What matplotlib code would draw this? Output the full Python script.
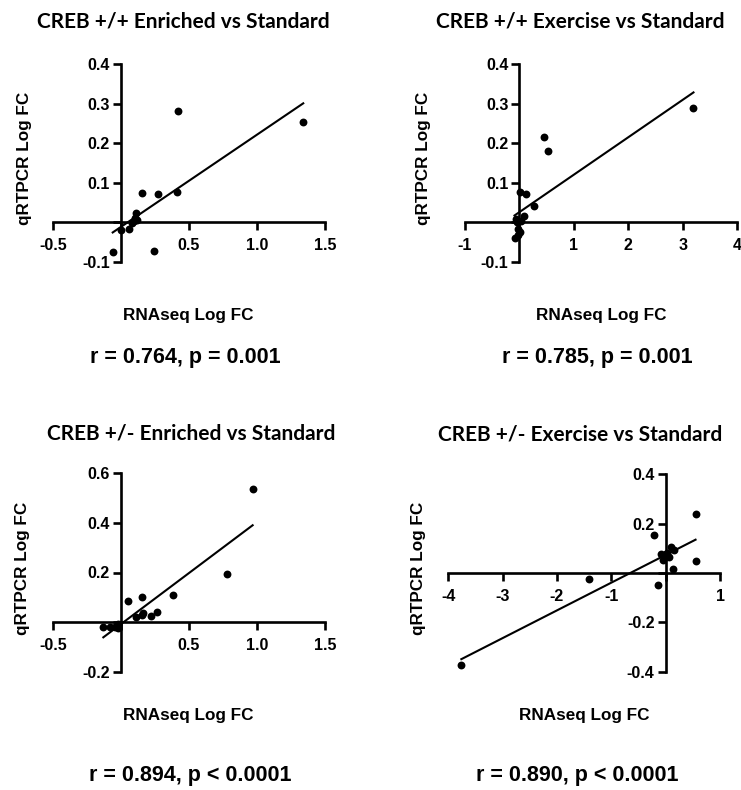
import numpy as np
import matplotlib
matplotlib.use("Agg")
import matplotlib.pyplot as plt

plt.rcParams["font.family"] = ["Liberation Sans", "DejaVu Sans"]
plt.rcParams["font.weight"] = "bold"

# ---------------- data ----------------
titles = ["CREB +/+ Enriched vs Standard", "CREB +/+ Exercise vs Standard",
          "CREB +/- Enriched vs Standard", "CREB +/- Exercise vs Standard"]
stats = ["r = 0.764, p = 0.001", "r = 0.785, p = 0.001",
         "r = 0.894, p < 0.0001", "r = 0.890, p < 0.0001"]
xlabel = "RNAseq Log FC"
ylabel = "qRTPCR Log FC"

x1 = [-0.061, 0.000, 0.059, 0.078, 0.095, 0.103, 0.110, 0.115, 0.152, 0.243, 0.270, 0.410, 0.420, 1.340]
y1 = [-0.075, -0.019, -0.016, -0.002, 0.003, 0.011, 0.024, 0.007, 0.074, -0.071, 0.072, 0.077, 0.281, 0.253]

x2 = [3.20, 0.445, 0.53, 0.02, 0.12, 0.27, -0.06, 0.09, -0.02, 0.02, -0.09, -0.02, 0.03, -0.04]
y2 = [0.288, 0.215, 0.181, 0.076, 0.072, 0.042, 0.009, 0.015, -0.017, -0.025, -0.040, -0.033, 0.003, 0.002]

x3 = [0.968, 0.777, 0.380, 0.157, 0.049, 0.110, 0.152, 0.164, 0.218, 0.262, -0.130, -0.081, -0.044, -0.025, -0.020]
y3 = [0.537, 0.194, 0.108, 0.101, 0.086, 0.020, 0.030, 0.036, 0.025, 0.040, -0.018, -0.020, -0.020, -0.007, -0.022]

x4 = [-3.76, -1.41, -0.215, -0.135, 0.55, 0.55, 0.135, -0.09, 0.03, 0.09, 0.15, -0.04, 0.06, 0.00]
y4 = [-0.374, -0.023, 0.153, -0.050, 0.240, 0.049, 0.018, 0.078, 0.081, 0.105, 0.095, 0.054, 0.065, 0.075]

xticks = [[-0.5, 0, 0.5, 1.0, 1.5], [-1, 0, 1, 2, 3, 4], [-0.5, 0, 0.5, 1.0, 1.5], [-4, -3, -2, -1, 0, 1]]
xticklabels = [["-0.5", "", "0.5", "1.0", "1.5"], ["-1", "", "1", "2", "3", "4"],
               ["-0.5", "", "0.5", "1.0", "1.5"], ["-4", "-3", "-2", "-1", "", "1"]]
yticks = [[-0.1, 0, 0.1, 0.2, 0.3, 0.4], [-0.1, 0, 0.1, 0.2, 0.3, 0.4],
          [-0.2, 0, 0.2, 0.4, 0.6], [-0.4, -0.2, 0, 0.2, 0.4]]
yticklabels = [["-0.1", "", "0.1", "0.2", "0.3", "0.4"], ["-0.1", "", "0.1", "0.2", "0.3", "0.4"],
               ["-0.2", "", "0.2", "0.4", "0.6"], ["-0.4", "-0.2", "", "0.2", "0.4"]]

# ---------------- layout (pixels, y from top) ----------------
W, H = 741, 790
fig = plt.figure(figsize=(W / 100, H / 100), dpi=100)

def fx(px):
    return px / W

def fy(py):
    return 1 - py / H

axes_px = [(53, 325, 64, 262), (465, 737, 64, 262), (53, 325, 473.3, 671.7), (448.3, 720, 474.3, 671.7)]
title_pos = [(183, 28), (580, 28), (191, 440), (580, 440.5)]
xlab_pos = [(188, 320), (601, 320), (188, 720), (584, 720)]
stat_pos = [(185, 363), (597, 363), (190, 781), (577, 781)]
ylab_pos = [(25, 158), (424, 158), (23, 568), (418, 568)]

xs = [x1, x2, x3, x4]
ys = [y1, y2, y3, y4]

for i in range(4):
    l, r, t, b = axes_px[i]
    ax = fig.add_axes([fx(l), fy(b), fx(r) - fx(l), fy(t) - fy(b)])
    ax.patch.set_visible(False)
    xt, yt = xticks[i], yticks[i]
    ax.set_xlim(xt[0], xt[-1])
    ax.set_ylim(yt[0], yt[-1])
    for s in ["top", "right"]:
        ax.spines[s].set_visible(False)
    ax.spines["left"].set_position(("data", 0))
    ax.spines["bottom"].set_position(("data", 0))
    for s in ["left", "bottom"]:
        ax.spines[s].set_linewidth(1.9)
    ax.set_xticks(xt)
    ax.set_xticklabels(xticklabels[i])
    ax.set_yticks(yt)
    ax.set_yticklabels(yticklabels[i])
    ax.tick_params(axis="x", direction="out", length=5.5, width=1.9, pad=6, labelsize=11.5)
    ax.tick_params(axis="y", direction="out", length=5.5, width=1.9, pad=2.5, labelsize=11.5)
    for lab in ax.get_xticklabels() + ax.get_yticklabels():
        lab.set_fontweight("bold")

    x = np.array(xs[i]); y = np.array(ys[i])
    ax.scatter(x, y, s=32, color="black", zorder=3, clip_on=False, linewidths=0)
    k, c = np.polyfit(x, y, 1)
    xl = np.array([x.min(), x.max()])
    ax.plot(xl, k * xl + c, color="black", lw=1.5, clip_on=False, zorder=2)

    fig.text(fx(title_pos[i][0]), fy(title_pos[i][1]), titles[i], ha="center", va="baseline",
             family=["Lato", "DejaVu Sans"], weight="bold", size=15)
    fig.text(fx(xlab_pos[i][0]), fy(xlab_pos[i][1]), xlabel, ha="center", va="baseline",
             weight="bold", size=12.3)
    fig.text(fx(stat_pos[i][0]), fy(stat_pos[i][1]), stats[i], ha="center", va="baseline",
             weight="bold", size=15.5)
    fig.text(fx(ylab_pos[i][0]), fy(ylab_pos[i][1]), ylabel, ha="center", va="center", rotation=90,
             weight="bold", size=12.3)

fig.savefig("out.png", dpi=100)
